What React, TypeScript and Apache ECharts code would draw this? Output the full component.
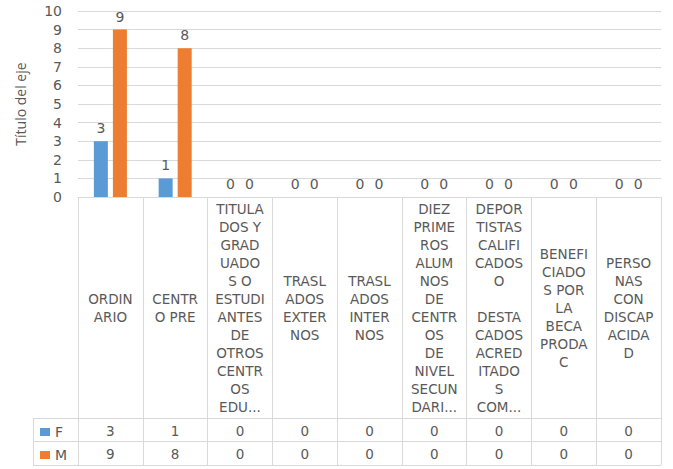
import React, { useEffect, useRef } from "react";
import * as echarts from "echarts";

const categories = [
  "ORDIN\nARIO",
  "CENTR\nO PRE",
  "TITULA\nDOS Y\nGRAD\nUADO\nS O\nESTUDI\nANTES\nDE\nOTROS\nCENTR\nOS\nEDU...",
  "TRASL\nADOS\nEXTER\nNOS",
  "TRASL\nADOS\nINTER\nNOS",
  "DIEZ\nPRIME\nROS\nALUM\nNOS\nDE\nCENTR\nOS\nDE\nNIVEL\nSECUN\nDARI...",
  "DEPOR\nTISTAS\nCALIFI\nCADOS\nO\n\nDESTA\nCADOS\nACRED\nITADO\nS\nCOM...",
  "BENEFI\nCIADO\nS POR\nLA\nBECA\nPRODA\nC",
  "PERSO\nNAS\nCON\nDISCAP\nACIDA\nD",
];
const seriesF = [3, 1, 0, 0, 0, 0, 0, 0, 0];
const seriesM = [9, 8, 0, 0, 0, 0, 0, 0, 0];
const yTicks = { min: 0, max: 10, interval: 1 };

const FONT = "DejaVu Sans";
const TITLE_FONT = "Open Sans";
const GRAY = "#595959";
const LINE = "#d9d9d9";

export default function App() {
  const ref = useRef<HTMLDivElement>(null);
  useEffect(() => {
    if (!ref.current) return;
    const chart = echarts.init(ref.current, null, { renderer: "svg" });
    const rowAxis = (vals: number[], margin: number) => ({
      type: "category",
      data: categories,
      position: "bottom",
      axisLine: { show: false },
      axisTick: { show: false },
      splitLine: { show: false },
      axisLabel: {
        interval: 0,
        margin,
        verticalAlign: "middle",
        color: GRAY,
        fontSize: 13.5,
        fontFamily: FONT,
        formatter: (_v: string, i: number) => String(vals[i]),
      },
    });
    const barLabel = { show: true, position: "top", color: GRAY, fontSize: 14, distance: 6, fontFamily: FONT };
    chart.setOption({
      animation: false,
      textStyle: { fontFamily: FONT },
      grid: { left: 78, right: 12, top: 11, bottom: 272 },
      legend: {
        orient: "vertical",
        left: 40,
        top: 425,
        padding: 0,
        itemGap: 9,
        itemWidth: 10,
        itemHeight: 8,
        icon: "rect",
        textStyle: { color: GRAY, fontSize: 14, fontFamily: FONT },
        data: ["F", "M"],
      },
      xAxis: [
        {
          type: "category",
          data: categories,
          position: "bottom",
          axisLine: { lineStyle: { color: LINE } },
          axisTick: { show: true, length: 268, lineStyle: { color: LINE } },
          axisLabel: {
            interval: 0,
            margin: 111,
            verticalAlign: "middle",
            align: "center",
            color: GRAY,
            fontSize: 13.5,
            lineHeight: 18,
            fontFamily: FONT,
          },
        },
        rowAxis(seriesF, 234),
        rowAxis(seriesM, 257),
      ],
      yAxis: {
        type: "value",
        ...yTicks,
        name: "Título del eje",
        nameLocation: "middle",
        nameGap: 51,
        nameRotate: 90,
        nameTextStyle: { color: GRAY, fontSize: 14, fontFamily: TITLE_FONT },
        axisLine: { show: false },
        axisTick: { show: false },
        axisLabel: { color: GRAY, fontSize: 14, margin: 16, fontFamily: FONT },
        splitLine: { lineStyle: { color: LINE } },
      },
      series: [
        {
          name: "F",
          type: "bar",
          data: seriesF,
          barWidth: 14,
          barGap: "36%",
          itemStyle: { color: "#5B9BD5" },
          label: barLabel,
        },
        {
          name: "M",
          type: "bar",
          data: seriesM,
          barWidth: 14,
          itemStyle: { color: "#ED7D31" },
          label: barLabel,
        },
      ],
      graphic: [
        { type: "line", shape: { x1: 33, y1: 418.5, x2: 661, y2: 418.5 }, style: { stroke: LINE, lineWidth: 1 } },
        { type: "line", shape: { x1: 33, y1: 441.5, x2: 661, y2: 441.5 }, style: { stroke: LINE, lineWidth: 1 } },
        { type: "line", shape: { x1: 33, y1: 465.5, x2: 661, y2: 465.5 }, style: { stroke: LINE, lineWidth: 1 } },
        { type: "line", shape: { x1: 33.5, y1: 418, x2: 33.5, y2: 466 }, style: { stroke: LINE, lineWidth: 1 } },
      ],
    });
    return () => chart.dispose();
  }, []);
  return <div ref={ref} style={{ width: 673, height: 469, position: "absolute", left: 0, top: 0 }} />;
}
